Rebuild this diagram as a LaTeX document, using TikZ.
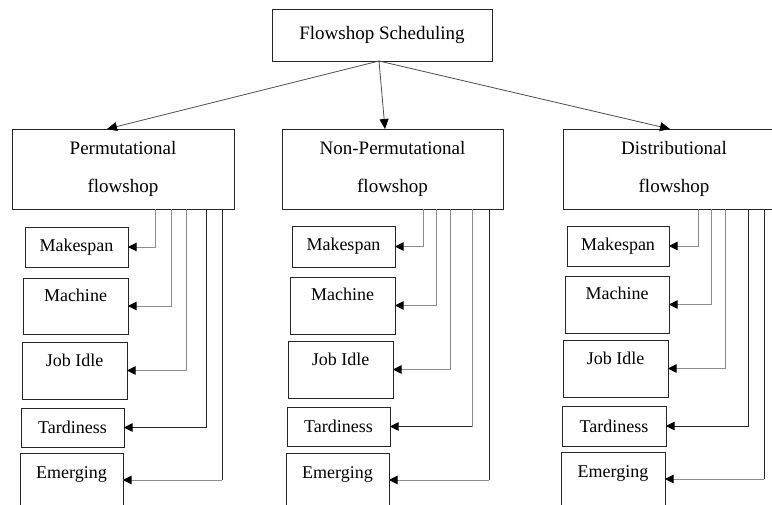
\documentclass[tikz,border=0pt]{standalone}
\usepackage{fontspec}
\setmainfont{Liberation Serif}
\usetikzlibrary{arrows.meta}
\tikzset{
  box/.style={draw=black!85, line width=0.8pt, inner sep=0pt, outer sep=0pt, anchor=north west, font=\fontsize{18}{22}\selectfont},
  head/.style={box, align=center, font=\fontsize{19}{38}\selectfont},
  topt/.style={text height=13pt, text depth=#1},
  gline/.style={draw=black!45, line width=0.9pt},
  dline/.style={draw=black!85, line width=0.9pt},
  tip/.style={-{Triangle[length=8.5pt,width=8.5pt,color=black]}},
  ttip/.style={draw=black!70, line width=0.8pt, -{Triangle[length=10pt,width=9pt,color=black]}}
}
\begin{document}
\begin{tikzpicture}[x=1pt,y=-1pt]
\useasboundingbox (0,0) rectangle (772,504);
\clip (0,0) rectangle (772,504);
% top and level 2
\node[box, minimum width=220pt, minimum height=52pt, font=\fontsize{19}{22}\selectfont] (T) at (272,9) {Flowshop Scheduling};
\node[head, minimum width=222pt, minimum height=80pt] (P) at (12,129) {Permutational\\flowshop};
\node[head, minimum width=221pt, minimum height=80pt] (N) at (282,129) {Non-Permutational\\flowshop};
\node[head, minimum width=222pt, minimum height=80pt] (D) at (563,129) {Distributional\\flowshop};
% helper coordinates
\coordinate (ts) at (379,0);
\coordinate (pa) at (107,0);
\coordinate (na) at (385,0);
\coordinate (da) at (670,0);
\draw[ttip] (T.south -| ts) -- (P.north -| pa);
\draw[ttip] (T.south -| ts) -- (N.north -| na);
\draw[ttip] (T.south -| ts) -- (D.north -| da);
% Permutational children
\node[box, minimum width=103pt, minimum height=40pt] (pm1) at (25,227) {Makespan};
\node[box, minimum width=105pt, minimum height=56pt, topt=23pt] (pm2) at (23,278) {Machine};
\node[box, minimum width=105pt, minimum height=57pt, topt=22pt] (pm3) at (22,342) {Job Idle};
\node[box, minimum width=103pt, minimum height=39pt] (pm4) at (21,408) {Tardiness};
\node[box, minimum width=103pt, minimum height=54pt, topt=17pt] (pm5) at (20,453) {Emerging};
% Non-Permutational children
\node[box, minimum width=103pt, minimum height=41pt] (nm1) at (292,226) {Makespan};
\node[box, minimum width=105pt, minimum height=57pt, topt=23pt] (nm2) at (290,277) {Machine};
\node[box, minimum width=105pt, minimum height=57pt, topt=22pt] (nm3) at (288,341) {Job Idle};
\node[box, minimum width=103pt, minimum height=39pt] (nm4) at (287,407) {Tardiness};
\node[box, minimum width=103pt, minimum height=54pt, topt=17pt] (nm5) at (286,453) {Emerging};
% Distributional children
\node[box, minimum width=102pt, minimum height=40pt] (dm1) at (567,226) {Makespan};
\node[box, minimum width=104pt, minimum height=57pt, topt=23pt] (dm2) at (565,276) {Machine};
\node[box, minimum width=105pt, minimum height=57pt, topt=22pt] (dm3) at (563,340) {Job Idle};
\node[box, minimum width=104pt, minimum height=40pt] (dm4) at (562,406) {Tardiness};
\node[box, minimum width=104pt, minimum height=54pt, topt=17pt] (dm5) at (561,452) {Emerging};
% vertical line positions
\coordinate (pv1) at (155,0); \coordinate (pv2) at (171,0); \coordinate (pv3) at (186,0);
\coordinate (pv4) at (206,0); \coordinate (pv5) at (222,0);
\coordinate (nv1) at (423,0); \coordinate (nv2) at (436,0); \coordinate (nv3) at (450,0);
\coordinate (nv4) at (472,0); \coordinate (nv5) at (489,0);
\coordinate (dv1) at (698,0); \coordinate (dv2) at (711,0); \coordinate (dv3) at (725,0);
\coordinate (dv4) at (748,0); \coordinate (dv5) at (764,0);
% connectors: Permutational
\draw[gline,tip] (P.south -| pv1) |- (pm1.east);
\draw[gline,tip] (P.south -| pv2) |- (pm2.east);
\draw[gline,tip] (P.south -| pv3) |- (pm3.east);
\draw[dline,tip] (P.south -| pv4) |- (pm4.east);
\draw[dline] (P.south -| pv5) -- (pv5 |- pm5.east);
\draw[gline,tip] (pv5 |- pm5.east) -- (pm5.east);
% connectors: Non-Permutational
\draw[gline,tip] (N.south -| nv1) |- (nm1.east);
\draw[gline,tip] (N.south -| nv2) |- (nm2.east);
\draw[gline,tip] (N.south -| nv3) |- (nm3.east);
\draw[gline] (N.south -| nv4) -- (nv4 |- nm4.east);
\draw[dline,tip] (nv4 |- nm4.east) -- (nm4.east);
\draw[dline] (N.south -| nv5) -- (nv5 |- nm5.east);
\draw[gline,tip] (nv5 |- nm5.east) -- (nm5.east);
% connectors: Distributional
\draw[gline,tip] (D.south -| dv1) |- (dm1.east);
\draw[gline,tip] (D.south -| dv2) |- (dm2.east);
\draw[gline,tip] (D.south -| dv3) |- (dm3.east);
\draw[dline,tip] (D.south -| dv4) |- (dm4.east);
\draw[dline] (D.south -| dv5) -- (dv5 |- dm5.east);
\draw[gline,tip] (dv5 |- dm5.east) -- (dm5.east);
\end{tikzpicture}
\end{document}
